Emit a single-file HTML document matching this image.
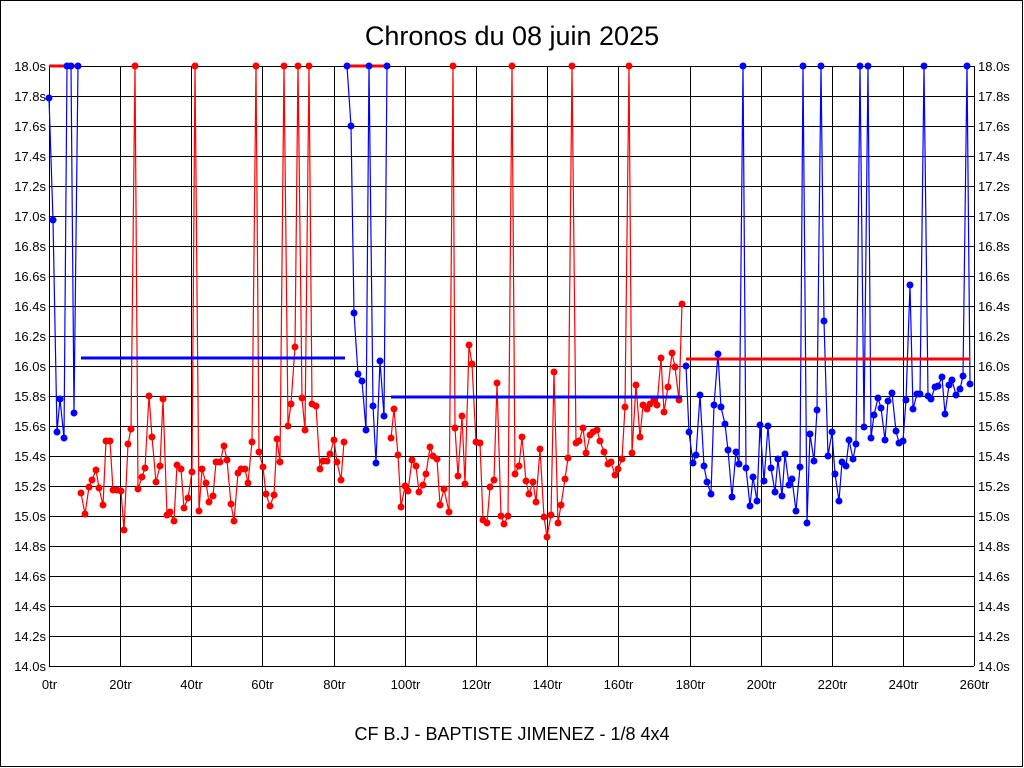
<!DOCTYPE html>
<html><head><meta charset="utf-8"><style>
body{margin:0;background:#fff}
svg{display:block;font-family:"Liberation Sans",sans-serif}
</style></head><body>
<svg width="1024" height="768" xmlns="http://www.w3.org/2000/svg">
<rect x="0.5" y="0.5" width="1022" height="766" fill="#fff" stroke="#000"/>
<text x="512" y="45" font-size="27" text-anchor="middle">Chronos du 08 juin 2025</text>
<text x="512" y="740" font-size="18" text-anchor="middle">CF B.J - BAPTISTE JIMENEZ - 1/8 4x4</text>
<g stroke="#000" stroke-width="1" id="grid"></g>
<g font-size="13" id="labels"></g>
<g id="data"></g>
<script>
const NS="http://www.w3.org/2000/svg";
function el(p,t,a,txt){const e=document.createElementNS(NS,t);for(const k in a)e.setAttribute(k,a[k]);if(txt!==undefined)e.textContent=txt;p.appendChild(e);return e;}
const g=document.getElementById('grid'),L=document.getElementById('labels'),D=document.getElementById('data');
const x0=48.8,xs=3.56,xr=974;
for(let i=0;i<=20;i++){const y=66+30*i;el(g,'line',{x1:x0,x2:xr,y1:y+.5,y2:y+.5});
 const v=(18-0.2*i).toFixed(1)+'s';
 el(L,'text',{x:46,y:y+5,'text-anchor':'end'},v);el(L,'text',{x:978,y:y+5},v);}
for(let k=0;k<=13;k++){const x=Math.round(x0+71.2*k)+.5;el(g,'line',{x1:x,x2:x,y1:66,y2:666});
 el(L,'text',{x:x,y:689,'text-anchor':'middle'},(20*k)+'tr');}
function series(pts,col){el(D,'polyline',{points:pts.map(p=>p.join(',')).join(' '),fill:'none',stroke:col,'stroke-width':1.2});
 pts.forEach(p=>el(D,'circle',{cx:p[0],cy:p[1],r:3.5,fill:col}));}
// red top clipped lines
el(D,'line',{x1:49,x2:80,y1:66,y2:66,stroke:'#f00','stroke-width':3});
el(D,'line',{x1:347,x2:387,y1:66,y2:66,stroke:'#f00','stroke-width':3});
const b1=[[49,98],[53,220],[57,432],[60,399],[64,438],[67,66],[71,66],[74,413],[78,66]];
const r1=[[81,493],[85,514],[89,487],[92,480],[96,470],[99,488],[103,505],[106,441],[110,441],[113,490],[117,490],[121,491],[124,530],[128,444],[131,429],[135,66],[138,489],[142,477],[145,468],[149,396],[152,437],[156,482],[160,466],[163,399],[167,515],[170,512],[174,521],[177,465],[181,469],[184,508],[188,498],[192,472],[195,66],[199,511],[202,469],[206,483],[209,502],[213,496],[216,462],[220,462],[224,446],[227,460],[231,504],[234,521],[238,473],[241,469],[245,469],[248,483],[252,442],[256,66],[259,452],[263,467],[266,494],[270,506],[274,495],[277,439],[280,462],[284,66],[288,426],[291,404],[295,347],[298,66],[302,398],[305,430],[309,66],[312,404],[316,406],[320,469],[323,461],[327,461],[330,454],[334,440],[337,462],[341,480],[344,442]];
const b2=[[347,66],[351,126],[354,313],[358,374],[362,381],[366,430],[369,66],[373,406],[376,463],[380,361],[384,416],[387,66]];
const r2=[[391,438],[394,409],[398,455],[401,507],[405,486],[408,491],[412,460],[416,466],[419,492],[423,485],[426,474],[430,447],[433,456],[437,459],[440,505],[444,489],[449,512],[453,66],[455,428],[458,476],[462,416],[465,484],[469,345],[472,364],[476,442],[480,443],[483,520],[487,523],[490,487],[494,480],[497,383],[501,516],[504,524],[508,516],[512,66],[515,474],[519,466],[522,437],[526,481],[529,494],[533,482],[536,502],[540,449],[544,517],[547,537],[551,515],[554,372],[558,523],[561,505],[565,479],[568,458],[572,66],[576,443],[579,441],[583,428],[586,453],[590,435],[593,432],[597,430],[600,441],[604,452],[608,464],[611,462],[615,475],[618,469],[622,459],[625,407],[629,66],[632,453],[636,385],[640,437],[643,405],[647,409],[650,404],[654,400],[657,405],[661,358],[664,412],[668,387],[672,353],[675,367],[679,400],[682,304]];
const b3=[[686,366],[689,432],[693,463],[696,455],[700,395],[704,466],[707,482],[711,494],[714,405],[718,354],[721,407],[725,424],[728,450],[732,497],[736,452],[739,464],[743,66],[746,468],[750,506],[753,477],[757,501],[760,425],[764,481],[768,426],[771,468],[775,492],[778,459],[782,496],[785,454],[789,485],[792,479],[796,511],[800,467],[803,66],[807,523],[810,434],[814,461],[817,410],[821,66],[824,321],[828,456],[832,432],[835,474],[839,501],[842,462],[846,466],[849,440],[853,459],[856,444],[860,66],[864,427],[868,66],[871,438],[874,415],[878,398],[881,408],[885,440],[888,401],[892,393],[896,431],[899,443],[903,441],[906,400],[910,285],[913,409],[917,394],[920,394],[924,66],[928,396],[931,399],[935,387],[938,386],[942,377],[945,414],[949,385],[952,380],[956,395],[960,389],[963,376],[967,66],[970,384]];
series(b1,'#00f');series(r1,'#f00');series(b2,'#00f');series(r2,'#f00');series(b3,'#00f');
el(D,'line',{x1:81,x2:345,y1:358,y2:358,stroke:'#00f','stroke-width':3});
el(D,'line',{x1:391,x2:682,y1:397,y2:397,stroke:'#00f','stroke-width':3});
el(D,'line',{x1:686,x2:970,y1:359,y2:359,stroke:'#f00','stroke-width':3});
</script>
</svg>
</body></html>
